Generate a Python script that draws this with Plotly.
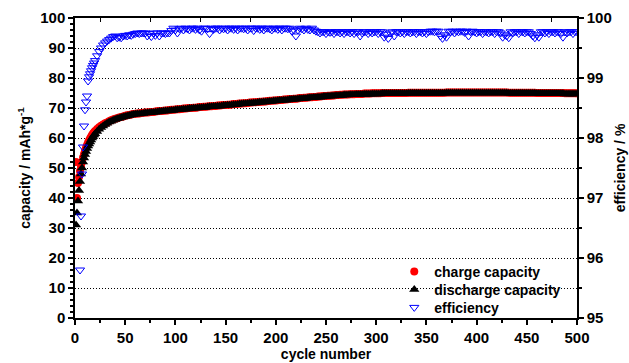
import plotly.graph_objects as go

# cycle numbers: every cycle up to 20, then every second cycle
cycles = list(range(1, 21)) + list(range(22, 501, 2))

charge_capacity = [
    52, 40, 45, 47, 49, 50.5, 52, 53.5, 54.7, 55.8, 56.8, 57.7, 58.5, 59.2, 59.8, 60.4, 61.0, 61.5, 61.9, 62.3,
    63.0, 63.6, 64.1, 64.5, 64.9, 65.2, 65.6, 65.9, 66.2, 66.4,
    66.6, 66.8, 67.0, 67.2, 67.4, 67.55, 67.7, 67.85, 68.0, 68.1,
    68.2, 68.2, 68.3, 68.4, 68.5, 68.5, 68.6, 68.7, 68.7, 68.8,
    68.9, 69.0, 69.0, 69.1, 69.2, 69.2, 69.3, 69.4, 69.4, 69.5,
    69.6, 69.6, 69.7, 69.8, 69.8, 69.9, 70.0, 70.0, 70.1, 70.1,
    70.2, 70.3, 70.3, 70.4, 70.4, 70.5, 70.6, 70.6, 70.7, 70.7,
    70.8, 70.8, 70.9, 71.0, 71.0, 71.1, 71.1, 71.2, 71.3, 71.3,
    71.4, 71.5, 71.5, 71.6, 71.6, 71.7, 71.8, 71.8, 71.9, 71.9,
    72.0, 72.1, 72.1, 72.2, 72.2, 72.3, 72.4, 72.4, 72.5, 72.5,
    72.6, 72.7, 72.7, 72.8, 72.8, 72.9, 73.0, 73.0, 73.1, 73.1,
    73.2, 73.3, 73.3, 73.4, 73.4, 73.5, 73.6, 73.6, 73.7, 73.7,
    73.8, 73.8, 73.9, 74.0, 74.0, 74.1, 74.1, 74.2, 74.2, 74.3,
    74.3, 74.4, 74.4, 74.5, 74.5, 74.5, 74.6, 74.6, 74.6, 74.7,
    74.7, 74.7, 74.7, 74.8, 74.8, 74.8, 74.8, 74.9, 74.9, 74.9,
    74.9, 74.9, 75.0, 75.0, 75.0, 75.0, 75.0, 75.0, 75.0, 75.0,
    75.0, 75.0, 75.0, 75.0, 75.0, 75.1, 75.1, 75.1, 75.1, 75.1,
    75.1, 75.1, 75.1, 75.1, 75.1, 75.1, 75.1, 75.1, 75.1, 75.1,
    75.1, 75.1, 75.1, 75.1, 75.2, 75.2, 75.2, 75.2, 75.2, 75.2,
    75.2, 75.2, 75.2, 75.2, 75.2, 75.2, 75.2, 75.2, 75.2, 75.2,
    75.2, 75.2, 75.2, 75.2, 75.2, 75.2, 75.2, 75.2, 75.2, 75.2,
    75.2, 75.2, 75.2, 75.2, 75.2, 75.1, 75.1, 75.1, 75.1, 75.1,
    75.1, 75.1, 75.1, 75.1, 75.1, 75.1, 75.1, 75.1, 75.1, 75.0,
    75.0, 75.0, 75.0, 75.0, 75.0, 75.0, 75.0, 75.0, 75.0, 75.0,
    75.0, 75.0, 75.0, 74.9, 74.9, 74.9, 74.9, 74.9, 74.9, 74.9,
]

discharge_capacity = [
    31, 35, 39, 42.5, 45.5, 48, 50, 52, 53.3, 54.5, 55.5, 56.5, 57.3, 58, 58.7, 59.3, 60, 60.5, 61, 61.4,
    62.2, 62.9, 63.5, 64.0, 64.5, 64.9, 65.3, 65.6, 65.9, 66.2,
    66.4, 66.6, 66.8, 67.0, 67.2, 67.35, 67.5, 67.65, 67.8, 67.9,
    68.0, 68.0, 68.1, 68.2, 68.3, 68.3, 68.4, 68.5, 68.5, 68.6,
    68.7, 68.8, 68.8, 68.9, 69.0, 69.0, 69.1, 69.2, 69.2, 69.3,
    69.4, 69.4, 69.5, 69.6, 69.6, 69.7, 69.8, 69.8, 69.9, 69.9,
    70.0, 70.1, 70.1, 70.2, 70.2, 70.3, 70.4, 70.4, 70.5, 70.5,
    70.6, 70.6, 70.7, 70.8, 70.8, 70.9, 70.9, 71.0, 71.1, 71.1,
    71.2, 71.3, 71.3, 71.4, 71.4, 71.5, 71.6, 71.6, 71.7, 71.7,
    71.8, 71.9, 71.9, 72.0, 72.0, 72.1, 72.2, 72.2, 72.3, 72.3,
    72.4, 72.5, 72.5, 72.6, 72.6, 72.7, 72.8, 72.8, 72.9, 72.9,
    73.0, 73.1, 73.1, 73.2, 73.2, 73.3, 73.4, 73.4, 73.5, 73.5,
    73.6, 73.6, 73.7, 73.8, 73.8, 73.9, 73.9, 74.0, 74.0, 74.1,
    74.1, 74.2, 74.2, 74.3, 74.3, 74.3, 74.4, 74.4, 74.4, 74.5,
    74.5, 74.5, 74.5, 74.6, 74.6, 74.6, 74.6, 74.7, 74.7, 74.7,
    74.7, 74.7, 74.8, 74.8, 74.8, 74.8, 74.8, 74.8, 74.8, 74.8,
    74.8, 74.8, 74.8, 74.8, 74.8, 74.9, 74.9, 74.9, 74.9, 74.9,
    74.9, 74.9, 74.9, 74.9, 74.9, 74.9, 74.9, 74.9, 74.9, 74.9,
    74.9, 74.9, 74.9, 74.9, 75.0, 75.0, 75.0, 75.0, 75.0, 75.0,
    75.0, 75.0, 75.0, 75.0, 75.0, 75.0, 75.0, 75.0, 75.0, 75.0,
    75.0, 75.0, 75.0, 75.0, 75.0, 75.0, 75.0, 75.0, 75.0, 75.0,
    75.0, 75.0, 75.0, 75.0, 75.0, 74.9, 74.9, 74.9, 74.9, 74.9,
    74.9, 74.9, 74.9, 74.9, 74.9, 74.9, 74.9, 74.9, 74.9, 74.8,
    74.8, 74.8, 74.8, 74.8, 74.8, 74.8, 74.8, 74.8, 74.8, 74.8,
    74.8, 74.8, 74.8, 74.7, 74.7, 74.7, 74.7, 74.7, 74.7, 74.7,
]

efficiency = [
    None, None, None, None, 95.80, 96.70, 97.40, 97.85, 98.20, 98.47, 98.60, 98.70, 98.95, 99.02, 99.07, 99.12, 99.17, 99.21, 99.25, 99.29,
    99.37, 99.44, 99.50, 99.55, 99.585, 99.615, 99.64, 99.665, 99.69, 99.70,
    99.67, 99.68, 99.67, 99.70, 99.71, 99.70, 99.72, 99.71, 99.73, 99.74,
    99.75, 99.74, 99.75, 99.75, 99.75, 99.70, 99.74, 99.69, 99.75, 99.71,
    99.75, 99.70, 99.75, 99.75, 99.74, 99.75, 99.75, 99.79, 99.83, 99.80,
    99.75, 99.82, 99.83, 99.80, 99.83, 99.82, 99.80, 99.83, 99.83, 99.81,
    99.83, 99.80, 99.78, 99.83, 99.83, 99.82, 99.74, 99.83, 99.81, 99.83,
    99.83, 99.80, 99.83, 99.82, 99.83, 99.80, 99.83, 99.83, 99.81, 99.83,
    99.80, 99.83, 99.83, 99.82, 99.83, 99.80, 99.83, 99.83, 99.79, 99.83,
    99.83, 99.81, 99.83, 99.80, 99.83, 99.83, 99.82, 99.80, 99.83, 99.83,
    99.81, 99.83, 99.80, 99.83, 99.83, 99.82, 99.83, 99.78, 99.80, 99.70,
    99.80, 99.83, 99.82, 99.80, 99.83, 99.81, 99.80, 99.83, 99.80, 99.78,
    99.77, 99.75, 99.77, 99.77, 99.74, 99.77, 99.76, 99.77, 99.74, 99.77,
    99.77, 99.75, 99.77, 99.74, 99.77, 99.77, 99.75, 99.77, 99.74, 99.77,
    99.77, 99.70, 99.75, 99.77, 99.77, 99.74, 99.77, 99.75, 99.77, 99.77,
    99.74, 99.77, 99.77, 99.68, 99.73, 99.66, 99.75, 99.77, 99.70, 99.77,
    99.77, 99.75, 99.77, 99.74, 99.77, 99.77, 99.75, 99.77, 99.77, 99.74,
    99.77, 99.77, 99.75, 99.77, 99.74, 99.77, 99.78, 99.78, 99.77, 99.78,
    99.78, 99.70, 99.66, 99.72, 99.68, 99.78, 99.77, 99.78, 99.75, 99.78,
    99.77, 99.78, 99.78, 99.76, 99.78, 99.70, 99.77, 99.78, 99.77, 99.75,
    99.77, 99.77, 99.74, 99.77, 99.77, 99.75, 99.77, 99.77, 99.74, 99.77,
    99.77, 99.75, 99.68, 99.72, 99.70, 99.67, 99.77, 99.75, 99.77, 99.77,
    99.74, 99.77, 99.77, 99.75, 99.77, 99.77, 99.74, 99.70, 99.67, 99.72,
    99.68, 99.77, 99.77, 99.75, 99.77, 99.74, 99.77, 99.77, 99.75, 99.77,
    99.77, 99.74, 99.68, 99.77, 99.75, 99.77, 99.77, 99.74, 99.77, 99.77,
]

FONT = "Liberation Sans, Arial, sans-serif"
tick_font = dict(family=FONT, size=15, color="black", weight="bold")
title_font = dict(family=FONT, size=14, color="black", weight="bold")
legend_font = dict(family=FONT, size=14, color="black", weight="bold")

fig = go.Figure()
fig.add_trace(go.Scatter(
    x=cycles, y=charge_capacity, mode="markers", name="charge capacity", legend="legend",
    marker=dict(symbol="circle", size=8, color="#ff0000", line=dict(width=0)),
))
fig.add_trace(go.Scatter(
    x=cycles, y=discharge_capacity, mode="markers", name="discharge capacity", legend="legend2",
    marker=dict(symbol="triangle-up", size=9, color="black", line=dict(width=0)),
))
fig.add_trace(go.Scatter(
    x=cycles, y=efficiency, mode="markers", name="efficiency", xaxis="x2", yaxis="y2", legend="legend3",
    marker=dict(symbol="triangle-down-open", size=8, color="#0000ff", line=dict(width=1, color="#0000ff")),
))

axis_common = dict(
    showline=True, linecolor="black", linewidth=1.5,
    ticks="outside", ticklen=5, tickwidth=1.5, tickcolor="black",
    tickfont=tick_font, zeroline=False, automargin=False,
)

leg = dict(x=0.636, xanchor="left", yanchor="middle", bgcolor="rgba(0,0,0,0)",
           borderwidth=0, font=legend_font)

fig.update_layout(
    width=629, height=363,
    margin=dict(l=75, r=52, t=18, b=45),
    paper_bgcolor="white", plot_bgcolor="white",
    font=dict(family=FONT, color="black"),
    showlegend=True,
    legend=dict(leg, y=0.154),
    legend2=dict(leg, y=0.094),
    legend3=dict(leg, y=0.034),
    xaxis=dict(
        **axis_common,
        range=[0, 500], tick0=0, dtick=50, mirror=True, showgrid=False,
        minor=dict(dtick=25, ticks="outside", ticklen=3, tickwidth=1.5, tickcolor="black", showgrid=False),
        title=dict(text="cycle number", font=title_font, standoff=2),
    ),
    xaxis2=dict(
        overlaying="x", side="top", anchor="y2", range=[0, 500],
        showline=False, showgrid=False, zeroline=False, showticklabels=False,
        ticks="inside", tick0=25, dtick=50, ticklen=4, tickwidth=1, tickcolor="black",
        automargin=False,
    ),
    yaxis=dict(
        **axis_common,
        range=[0, 100], tick0=0, dtick=10,
        showgrid=True, gridcolor="black", gridwidth=1, griddash="1px,2px",
        minor=dict(dtick=2, ticks="outside", ticklen=3, tickwidth=1.5, tickcolor="black", showgrid=False),
        title=dict(text="capacity / mAh*g<sup>-1</sup>", font=title_font, standoff=6),
    ),
    yaxis2=dict(
        **axis_common,
        overlaying="y", side="right",
        range=[95, 100], tick0=95, dtick=1, showgrid=False,
        minor=dict(dtick=0.5, ticks="outside", ticklen=3, tickwidth=1.5, tickcolor="black", showgrid=False),
        title=dict(text="efficiency / %", font=title_font, standoff=4),
    ),
)

fig.write_html(
    "out.html",
    config={"displayModeBar": False},
    post_script="document.body.style.margin='0';document.body.style.overflow='hidden';",
)
